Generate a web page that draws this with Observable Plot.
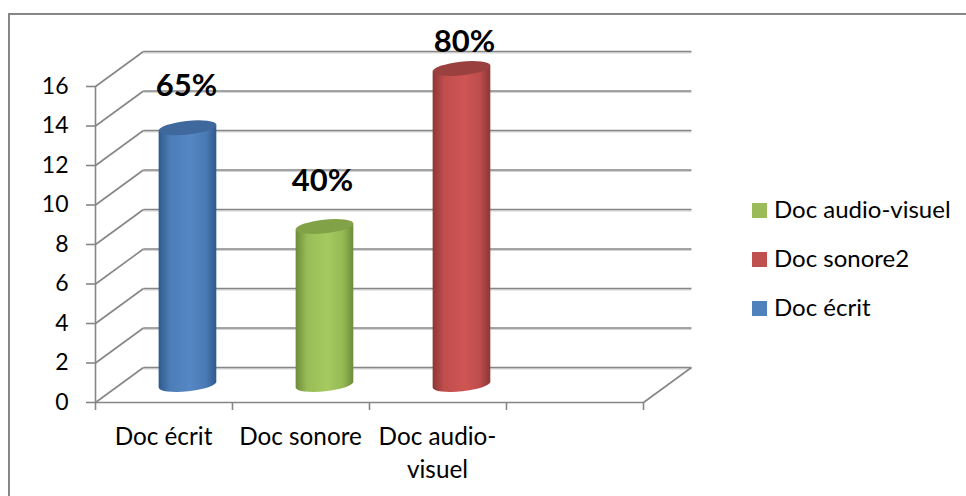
<!DOCTYPE html>
<html><head><meta charset="utf-8">
<script src="https://cdn.jsdelivr.net/npm/d3@7"></script>
<script src="https://cdn.jsdelivr.net/npm/@observablehq/plot@0.6"></script>
<style>
html,body{margin:0;padding:0;background:#fff;width:966px;height:496px;overflow:hidden}
#wrap{position:relative;width:966px;height:496px;font-family:Lato,sans-serif;color:#000}
#frame{position:absolute;left:8px;top:13px;width:958px;height:483px;border-left:2px solid #868686;border-top:2px solid #868686;box-sizing:border-box;pointer-events:none}
#legend{position:absolute;left:752px;top:189px;font-size:24px}
#legend div{height:49px;line-height:40px;white-space:nowrap;display:flex;align-items:flex-start}
#legend i{display:inline-block;width:15px;height:15px;margin:14px 7px 0 0}
svg{position:absolute;left:0;top:0;background:transparent}
</style></head><body><div id="wrap"><div id="frame"></div><div id="legend"></div></div>
<script>
const categories = ["Doc écrit", "Doc sonore", "Doc audio-\nvisuel"];
const values = [13, 8, 16];
const percentLabels = ["65%", "40%", "80%"];
const seriesColors = [
  {light:"#5587c4", dark:"#2f5a8b", top:"#3f699c"},
  {light:"#a6ca60", dark:"#6c8c3a", top:"#82a247"},
  {light:"#cf5554", dark:"#8c3736", top:"#9a4140"}
];
const legendNames = ["Doc audio-visuel", "Doc sonore2", "Doc écrit"];
const legendColors = ["#9bbb59", "#c0504d", "#4f81bd"];
const yTicks = [0,2,4,6,8,10,12,14,16];
const xTicks = [0,1,2,3,4];
const depthX = 0.35, depthY = 1.772;          // oblique depth of the 3-D box, in data units
const labelOffsets = [[-1.5,-42],[-2.5,-46],[2.5,-27]];

const rows = categories.map((c,i)=>({c,i,v:values[i],p:percentLabels[i],col:seriesColors[i]}));

function cylinders(index, scales) {
  const g = d3.create("svg:g");
  const defs = g.append("defs");
  const rx = 29, ry = 6.8, rot = -6, t = rot*Math.PI/180;
  const ax = rx*Math.cos(t), ay = -rx*Math.sin(t);
  rows.forEach(r=>{
    const id = "cyl"+r.i;
    const grad = defs.append("linearGradient").attr("id",id);
    [[0,r.col.dark],[0.2,d3.interpolateRgb(r.col.dark,r.col.light)(0.78)],[0.55,r.col.light],[0.82,d3.interpolateRgb(r.col.dark,r.col.light)(0.72)],[1,r.col.dark]]
      .forEach(([o,c])=>grad.append("stop").attr("offset",o).attr("stop-color",c));
    const cx = scales.x(r.i+0.5+depthX/2);
    const ty = scales.y(r.v+depthY/2), by = scales.y(depthY/2);
    g.append("path")
      .attr("d",`M${cx-ax},${ty+ay} L${cx-ax},${by+ay} A${rx},${ry} ${rot} 0 0 ${cx+ax},${by-ay} L${cx+ax},${ty-ay} Z`)
      .attr("fill",`url(#${id})`);
    g.append("ellipse").attr("cx",cx).attr("cy",ty).attr("rx",rx).attr("ry",ry)
      .attr("transform",`rotate(${rot} ${cx} ${ty})`).attr("fill",r.col.top);
  });
  return g.node();
}

const lineStyle = {stroke:"#868686", strokeWidth:1.6};
const shadowStyle = {stroke:"#d4d4d4", strokeWidth:1.2, dy:1.4};
const plot = Plot.plot({
  width:966, height:496,
  marginLeft:95, marginRight:323, marginTop:86, marginBottom:94,
  style:{background:"transparent", fontFamily:"Lato, sans-serif", color:"#000"},
  x:{type:"linear", domain:[0,4]},
  y:{type:"linear", domain:[0,16]},
  marks:[
    Plot.link(yTicks,{x1:depthX,x2:4+depthX,y1:d=>d+depthY,y2:d=>d+depthY,...shadowStyle}),
    Plot.link(yTicks,{x1:depthX,x2:4+depthX,y1:d=>d+depthY,y2:d=>d+depthY,...lineStyle}),
    Plot.link(yTicks,{x1:0,x2:depthX,y1:d=>d,y2:d=>d+depthY,...lineStyle}),
    Plot.link([0],{x1:4,x2:4+depthX,y1:0,y2:depthY,...lineStyle}),
    Plot.ruleX([0],{y1:0,y2:16,...lineStyle}),
    Plot.ruleY([0],{x1:0,x2:4,...lineStyle}),
    Plot.axisY({ticks:yTicks,tickSize:9,tickPadding:18,label:null,fontSize:23,...lineStyle,textStroke:"none"}),
    Plot.axisX({ticks:xTicks,tickSize:8,tickFormat:()=>"",label:null,...lineStyle}),
    Plot.dot(rows,{x:d=>d.i+0.5,y:"v",render:cylinders}),
    Plot.text(rows,{x:d=>d.i+0.5,y:0,text:"c",lineAnchor:"top",dy:19,dx:-0.5,fontSize:24.3,lineHeight:1.37,fill:"#000"}),
    ...rows.map(r=>Plot.text([r],{x:d=>d.i+0.5+depthX/2,y:d=>d.v+depthY/2,text:"p",dx:labelOffsets[r.i][0],dy:labelOffsets[r.i][1],fontSize:31,fontWeight:"bold",fill:"#000"}))
  ]
});
document.getElementById("wrap").appendChild(plot);
const lg = document.getElementById("legend");
legendNames.forEach((n,i)=>{
  const d=document.createElement("div");
  const s=document.createElement("i"); s.style.background=legendColors[i];
  d.appendChild(s); d.appendChild(document.createTextNode(n)); lg.appendChild(d);
});
</script></body></html>
